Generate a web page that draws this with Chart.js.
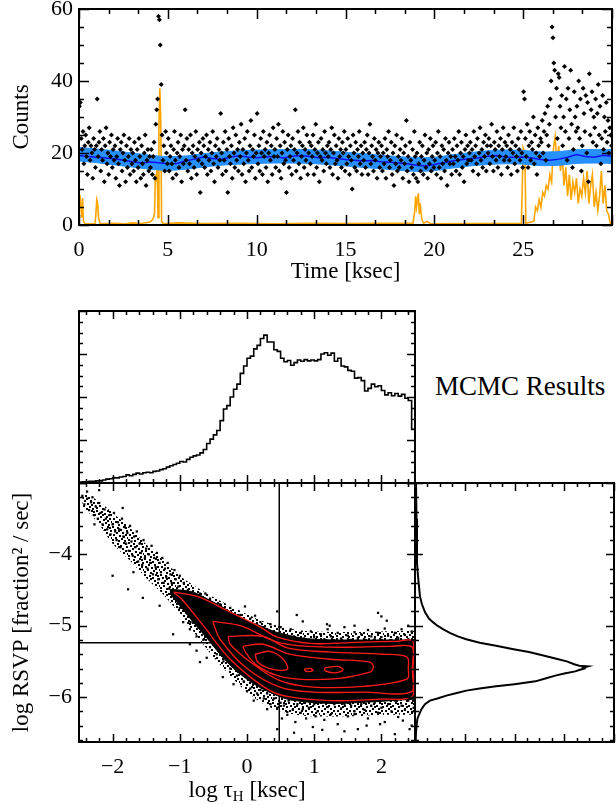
<!DOCTYPE html>
<html>
<head>
<meta charset="utf-8">
<title>Light curve and MCMC results</title>
<script src="https://cdn.jsdelivr.net/npm/chart.js@4.4.1/dist/chart.umd.min.js"></script>
<style>
  body { margin: 0; background: #fff; }
  #page { position: relative; width: 616px; height: 805px; overflow: hidden; }
  canvas { position: absolute; }
  .lbl { position: absolute; font-family: 'Liberation Serif', 'Times New Roman', serif; color: #000; white-space: nowrap; }
  .lbl sub { font-size: 15px; vertical-align: -4px; line-height: 0; }
</style>
</head>
<body>
<div id="page">
  <canvas id="lightcurve" width="616" height="290" style="left:0px;top:0px"></canvas>
  <canvas id="tauHist" width="345" height="183" style="left:75px;top:305px"></canvas>
  <canvas id="scatter" width="420" height="327" style="left:0px;top:478px"></canvas>
  <canvas id="rsvpHist" width="206" height="327" style="left:410px;top:478px"></canvas>
  <div class="lbl" style="left:435px;top:373px;font-size:27px;line-height:27px">MCMC Results</div>
  <div class="lbl" style="left:79px;width:336px;top:777px;text-align:center;font-size:23px;line-height:26px">log τ<sub>H</sub> [ksec]</div>
</div>
<script>
// ---- light curve: counts per 50 s bin, 20 bins per ksec row ----
const countT0 = 0.025;
const countDt = 0.05;
const counts = [
  33, 34, 24, 21, 26, 17, 22, 25, 19, 14, 23, 27, 18, 22, 20, 13, 24, 21, 16, 22,
  35, 19, 23, 26, 15, 21, 18, 24, 12, 22, 27, 17, 20, 14, 23, 19, 25, 16, 21, 18,
  22, 13, 19, 24, 17, 11, 21, 23, 15, 20, 25, 18, 12, 22, 16, 19, 24, 14, 21, 17,
  20, 15, 23, 18, 12, 21, 16, 24, 19, 13, 22, 17, 14, 20, 25, 11, 18, 21, 15, 19,
  16, 21, 14, 19, 23, 13, 28, 32, 35, 58, 57, 50, 39, 25, 18, 22, 15, 26, 20, 17,
  24, 15, 19, 22, 17, 13, 21, 26, 18, 14, 20, 23, 16, 19, 25, 12, 21, 17, 22, 32,
  18, 24, 15, 21, 17, 25, 13, 20, 22, 16, 19, 26, 14, 21, 18, 23, 9, 20, 17, 24,
  22, 16, 19, 25, 14, 21, 18, 23, 15, 20, 26, 17, 12, 22, 19, 24, 16, 21, 18, 31,
  20, 14, 23, 18, 26, 15, 21, 9, 24, 19, 17, 22, 13, 27, 20, 16, 25, 18, 21, 15,
  23, 19, 28, 14, 21, 17, 24, 12, 20, 26, 18, 15, 22, 29, 16, 21, 19, 25, 13, 20,
  31, 17, 22, 15, 24, 20, 14, 26, 19, 21, 16, 23, 12, 20, 25, 18, 22, 14, 27, 19,
  21, 16, 24, 19, 28, 15, 22, 13, 20, 26, 17, 23, 18, 9, 21, 25, 16, 19, 22, 14,
  24, 18, 21, 32, 15, 20, 26, 17, 23, 13, 19, 22, 27, 16, 21, 18, 25, 14, 20, 23,
  17, 22, 19, 25, 14, 21, 28, 16, 20, 23, 12, 19, 24, 18, 21, 15, 26, 20, 17, 22,
  19, 23, 16, 21, 27, 14, 20, 25, 17, 22, 18, 13, 24, 19, 21, 16, 23, 20, 26, 15,
  21, 17, 24, 19, 14, 22, 18, 10, 25, 20, 16, 23, 15, 21, 19, 26, 17, 22, 14, 20,
  18, 23, 16, 21, 25, 14, 20, 28, 17, 22, 19, 15, 24, 18, 21, 13, 20, 23, 16, 19,
  22, 15, 20, 17, 24, 13, 21, 19, 26, 16, 18, 23, 14, 20, 11, 22, 17, 25, 15, 19,
  16, 21, 18, 24, 13, 20, 17, 22, 29, 15, 19, 12, 23, 18, 16, 21, 14, 26, 19, 13,
  20, 12, 17, 23, 15, 19, 22, 14, 18, 25, 16, 20, 13, 21, 17, 24, 15, 19, 22, 16,
  18, 23, 14, 20, 26, 16, 19, 13, 22, 17, 21, 15, 24, 18, 11, 20, 23, 17, 19, 14,
  21, 17, 24, 19, 15, 22, 18, 26, 14, 20, 23, 16, 19, 12, 21, 25, 17, 22, 18, 20,
  23, 18, 21, 15, 26, 19, 22, 17, 24, 14, 20, 27, 18, 21, 16, 23, 19, 25, 15, 22,
  20, 24, 17, 22, 28, 19, 15, 23, 21, 18, 26, 16, 22, 19, 24, 14, 21, 27, 18, 23,
  19, 22, 16, 25, 18, 21, 14, 23, 20, 27, 17, 22, 19, 15, 24, 21, 18, 26, 20, 16,
  37, 35, 24, 19, 28, 16, 22, 26, 18, 23, 21, 30, 17, 25, 20, 14, 27, 22, 19, 24,
  23, 29, 20, 26, 31, 18, 25, 33, 22, 28, 35, 40, 55, 52, 45, 43, 30, 38, 24, 42,
  41, 33, 27, 36, 22, 30, 44, 26, 35, 18, 38, 24, 32, 43, 28, 16, 21, 37, 30, 26,
  33, 27, 40, 24, 35, 15, 22, 38, 31, 26, 36, 20, 34, 12, 42, 25, 32, 37, 23, 30,
  27, 35, 22, 31, 39, 25, 33, 17, 24, 36, 21, 30, 26, 34, 23, 29, 20, 27, 25, 22
];

// model rate (dark blue), every 0.5 ksec
const modelDt = 0.5;
const modelRate = [
  19.3, 19.0, 18.8, 18.6, 18.4, 18.0, 17.6, 17.2, 17.5, 17.3,
  17.0, 17.1, 17.8, 18.3, 18.9, 18.5, 18.2, 18.8, 19.2, 18.9,
  18.7, 18.9, 19.0, 18.6, 19.1, 19.3, 19.0, 18.7, 18.8, 18.5,
  18.2, 18.0, 17.8, 17.9, 17.6, 17.4, 17.2, 17.0, 16.6, 16.4,
  16.8, 17.3, 17.8, 18.1, 18.4, 18.7, 19.1, 19.3, 18.9, 18.8,
  18.9, 18.6, 18.2, 18.0, 18.3, 18.8, 19.6, 19.0, 18.8, 19.4, 19.1
];

// model uncertainty band (light blue), every 1 ksec
const bandDt = 1;
const bandHi = [
  21.6, 21.1, 20.6, 20.0, 19.4, 19.0, 19.2, 19.8, 20.3, 20.6, 20.8,
  20.9, 21.0, 20.9, 20.6, 20.2, 19.8, 19.4, 19.0, 18.7, 18.8,
  19.5, 20.1, 20.6, 20.8, 20.7, 20.3, 20.4, 20.9, 21.0, 20.9
];
const bandLo = [
  17.8, 17.3, 16.7, 16.1, 15.5, 15.2, 15.5, 16.1, 16.6, 16.9, 17.1,
  17.2, 17.2, 17.1, 16.8, 16.4, 16.0, 15.6, 15.2, 14.9, 15.1,
  15.8, 16.4, 16.8, 17.0, 16.9, 16.5, 16.6, 17.1, 17.2, 17.1
];

// flaring component (orange)
const flareT = [
  0.0, 0.05, 0.1, 0.15, 0.2, 0.25, 0.35, 0.9, 0.95, 1.0, 1.05, 1.1, 1.2, 2.0, 2.5, 3.0, 3.5, 4.0,
  4.15, 4.25, 4.3, 4.35, 4.4, 4.45, 4.5, 4.55, 4.6, 4.65, 4.75, 5.5, 7.0, 9.0, 11.0, 13.0, 15.0,
  17.0, 18.8, 18.9, 18.95, 19.0, 19.1, 19.15, 19.2, 19.3, 19.4, 19.6, 19.8, 22.0, 24.9, 25.0,
  25.1, 25.15, 25.6, 25.7, 25.8, 25.9, 26.0, 26.1, 26.2, 26.3, 26.4, 26.5, 26.6, 26.7, 26.8,
  26.9, 27.0, 27.1, 27.2, 27.3, 27.4, 27.5, 27.6, 27.7, 27.8, 27.9, 28.0, 28.1, 28.2, 28.3,
  28.4, 28.5, 28.6, 28.7, 28.8, 28.9, 29.0, 29.1, 29.2, 29.3, 29.4, 29.5, 29.6, 29.7, 29.8,
  29.9, 30.0
];
const flareCounts = [
  5, 8.3, 6, 2, 7.5, 1, 0.3, 0.3, 3, 7, 6, 2, 0.3, 0.5, 0.3, 0.6, 0.4, 0.8,
  1.5, 3, 14, 12, 16, 2, 28, 38, 30, 1, 0.3, 0.6, 0.4, 0.5, 0.3, 0.5, 0.4,
  0.5, 0.5, 4, 8, 5, 8.8, 3, 6, 1.5, 0.5, 1, 0.3, 0.4, 0.5, 21.4,
  20, 0.5, 1, 5, 4, 7, 5, 9, 8, 11, 10, 14, 12, 21, 24.5,
  17, 22, 15, 19, 11, 16, 8, 14, 7, 12, 9, 13, 6, 10, 8,
  13, 9, 15, 6, 11, 14, 5, 9, 4, 8, 15, 6, 11, 4, 3,
  0.5, 0.3
];

// ---- MCMC marginal of log tau_H (0.05 wide bins from -2.5) ----
const tauBinLo = -2.5;
const tauBinWidth = 0.05;
const tauHist = [
  0.02, 0.02, 0.03, 0.03, 0.04, 0.04, 0.05, 0.05, 0.07, 0.09,
  0.10, 0.12, 0.12, 0.14, 0.15, 0.19, 0.17, 0.20, 0.23, 0.21,
  0.24, 0.25, 0.24, 0.27, 0.28, 0.31, 0.33, 0.37, 0.40, 0.43,
  0.46, 0.50, 0.49, 0.55, 0.60, 0.63, 0.65, 0.70, 0.78, 0.92,
  1.02, 1.12, 1.22, 1.45, 1.72, 1.80, 2.00, 2.18, 2.30, 2.55,
  2.72, 2.90, 2.95, 3.12, 3.20, 3.36, 3.44, 3.28, 3.28, 3.10,
  3.06, 2.90, 2.82, 2.85, 2.74, 2.80, 2.86, 2.83, 2.87, 2.84,
  2.86, 2.84, 2.87, 3.00, 3.03, 2.97, 3.02, 2.83, 2.90, 2.72,
  2.70, 2.62, 2.60, 2.44, 2.45, 2.38, 2.14, 2.20, 2.30, 2.24,
  2.26, 2.15, 2.05, 2.10, 2.03, 2.08, 2.02, 2.06, 1.97, 1.92
];
const tauHistEdgeX = [2.485, 2.5];
const tauHistEdgeY = [1.25, 1.25];

// ---- MCMC marginal of log RSVP ----
const rsvpLevels = [
  -3.0, -3.5, -4.0, -4.12, -4.3, -4.45, -4.59, -4.7, -4.81, -4.9, -4.95, -5.0, -5.05, -5.1,
  -5.15, -5.19, -5.24, -5.28, -5.33, -5.37, -5.42, -5.47, -5.5, -5.54, -5.56, -5.57, -5.59,
  -5.6, -5.62, -5.64, -5.67, -5.7, -5.74, -5.78, -5.82, -5.85, -5.88, -5.91, -5.95, -5.98,
  -6.02, -6.05, -6.1, -6.17, -6.25, -6.3, -6.4, -6.5, -6.63
];
const rsvpHist = [
  0.02, 0.03, 0.04, 0.04, 0.06, 0.08, 0.10, 0.14, 0.20, 0.28, 0.36, 0.45, 0.57, 0.70,
  0.86, 1.03, 1.30, 1.63, 1.98, 2.29, 2.60, 2.88, 3.05, 3.20, 3.30, 3.48, 3.38,
  3.40, 3.30, 3.22, 3.00, 2.82, 2.62, 2.42, 2.00, 1.63, 1.30, 1.03, 0.80, 0.63,
  0.45, 0.30, 0.20, 0.13, 0.08, 0.05, 0.03, 0.02, 0.01
];

// ---- posterior samples, log tau_H vs log RSVP ----
const bestTau = 0.48;
const bestRsvp = -5.24;
// outline of the crowded (stippled) part of the sample cloud
const haloTau = [-2.45, -2.2, -2.0, -1.75, -1.5, -1.25, -1.0, -0.75, -0.5, -0.25, 0.0, 0.25, 0.5, 0.75, 1.0, 1.5, 2.0, 2.5];
const haloTop = [-3.12, -3.26, -3.42, -3.62, -3.86, -4.08, -4.3, -4.46, -4.6, -4.72, -4.84, -4.94, -5.01, -5.06, -5.08, -5.09, -5.08, -5.07];
const haloBottom = [-3.32, -3.58, -3.85, -4.08, -4.33, -4.56, -4.84, -5.14, -5.44, -5.7, -5.93, -6.1, -6.2, -6.25, -6.27, -6.27, -6.25, -6.25];
// outline of the densest (solid) part of the sample cloud
const denseTau = [-1.15, -1.0, -0.8, -0.6, -0.4, -0.2, 0.0, 0.2, 0.4, 0.6, 0.8, 1.0, 1.3, 1.6, 2.0, 2.3, 2.5];
const denseTop = [-4.49, -4.5, -4.53, -4.62, -4.72, -4.83, -4.93, -5.0, -5.08, -5.13, -5.17, -5.19, -5.2, -5.2, -5.2, -5.2, -5.2];
const denseBottom = [-4.55, -4.72, -4.95, -5.17, -5.4, -5.6, -5.75, -5.87, -5.96, -6.03, -6.06, -6.08, -6.09, -6.08, -6.06, -6.04, -6.03];
// individual samples outside the solid core
const sampleCloud = [
  [-2.45,-3.18],[-2.42,-3.3],[-2.38,-3.22],[-2.35,-3.38],[-2.32,-3.27],[-2.3,-3.2],[-2.28,-3.45],[-2.25,-3.33],
  [-2.22,-3.5],[-2.2,-3.28],[-2.18,-3.42],[-2.15,-3.58],[-2.12,-3.37],[-2.1,-3.5],[-2.08,-3.65],[-2.05,-3.45],
  [-2.03,-3.72],[-2.0,-3.58],[-1.98,-3.42],[-1.96,-3.68],[-1.94,-3.8],[-1.92,-3.55],[-1.9,-3.65],[-1.88,-3.9],
  [-1.86,-3.5],[-1.84,-3.75],[-1.82,-3.62],[-1.8,-3.85],[-1.78,-3.7],[-1.76,-3.95],[-1.74,-3.6],[-1.72,-3.82],
  [-1.7,-4.02],[-1.68,-3.75],[-1.66,-3.9],[-1.64,-3.68],[-1.62,-4.1],[-1.6,-3.85],[-1.58,-3.98],[-1.56,-4.15],
  [-1.54,-3.8],[-1.52,-4.05],[-1.5,-3.92],[-1.48,-4.2],[-1.46,-4.0],[-1.44,-4.12],[-1.42,-3.88],[-1.4,-4.28],
  [-1.38,-4.05],[-1.36,-4.18],[-1.34,-3.98],[-1.32,-4.35],[-1.3,-4.12],[-1.28,-4.25],[-1.26,-4.05],[-1.24,-4.4],
  [-1.22,-4.2],[-1.2,-4.32],[-1.18,-4.12],[-1.16,-4.48],[-1.14,-4.28],[-1.12,-4.4],[-1.1,-4.58],[-1.08,-4.22],
  [-1.06,-4.35],[-1.04,-4.62],[-1.02,-4.45],[-1.0,-4.3],[-0.98,-4.55],[-0.96,-4.72],[-0.94,-4.4],[-0.92,-4.6],
  [-0.9,-4.82],[-0.88,-4.5],[-0.86,-4.7],[-0.84,-4.95],[-0.82,-4.58],[-0.8,-4.78],
  [-2.0,-4.3],[-1.55,-4.61],[-1.77,-4.49],[-1.3,-4.72],[-1.1,-5.12],[-0.85,-5.26],[-0.7,-5.51],[-2.2,-3.1],
  [-1.85,-3.35],[-2.38,-3.12],[-2.27,-3.58],[-1.69,-4.25],
  [-0.78,-4.62],[-0.75,-4.72],[-0.7,-4.55],[-0.65,-4.68],[-0.6,-4.8],[-0.55,-4.62],[-0.5,-4.75],[-0.45,-4.88],
  [-0.4,-4.7],[-0.35,-4.82],[-0.3,-4.95],[-0.25,-4.75],[-0.2,-4.88],[-0.15,-5.0],[-0.1,-4.85],[-0.05,-4.95],
  [0.0,-5.05],[0.05,-4.9],[0.1,-5.0],[0.15,-5.1],[0.2,-4.95],[0.25,-5.05],[0.3,-5.12],[0.35,-4.98],
  [0.4,-5.08],[0.45,-5.15],[0.5,-5.02],[0.55,-5.12],[0.6,-5.18],[0.65,-5.05],[0.7,-5.15],[0.75,-5.2],
  [0.8,-5.1],[0.85,-5.18],[0.9,-5.22],[0.95,-5.08],[1.0,-5.16],[1.05,-5.2],[1.1,-5.12],[1.15,-5.19],
  [1.2,-5.05],[1.25,-5.15],[1.3,-5.21],[1.35,-5.1],[1.4,-5.18],[1.45,-5.02],[1.5,-5.14],[1.55,-5.2],
  [1.6,-5.09],[1.65,-5.17],[1.7,-5.12],[1.75,-5.2],[1.8,-5.06],[1.85,-5.15],[1.9,-5.19],[1.95,-5.1],
  [2.0,-5.16],[2.05,-5.04],[2.1,-5.14],[2.15,-5.2],[2.2,-5.1],[2.25,-5.17],[2.3,-5.05],[2.35,-5.13],
  [2.4,-5.19],[2.45,-5.08],
  [-0.03,-4.73],[0.74,-4.85],[1.95,-4.82],[2.0,-4.87],[2.4,-5.0],[1.23,-5.0],[1.6,-5.0],[-0.5,-5.08],
  [0.45,-4.8],[0.83,-4.94],[1.19,-4.98],[2.08,-4.93],[-0.62,-4.55],[0.12,-4.86],
  [-1.0,-4.75],[-0.95,-4.95],[-0.9,-4.8],[-0.85,-5.05],[-0.8,-4.92],[-0.75,-5.15],[-0.7,-5.02],[-0.65,-5.2],
  [-0.6,-5.1],[-0.55,-5.3],[-0.5,-5.2],[-0.45,-5.4],[-0.4,-5.3],[-0.35,-5.5],[-0.3,-5.42],[-0.25,-5.6],
  [-0.2,-5.5],[-0.15,-5.7],[-0.1,-5.6],[-0.05,-5.78],[0.0,-5.7],[0.05,-5.88],[0.1,-5.8],[0.15,-5.95],
  [0.2,-5.9],[0.25,-6.02],[0.3,-5.95],[0.35,-6.1],[0.4,-6.02],[0.45,-6.15],[0.5,-6.08],
  [-0.75,-5.35],[-0.6,-5.45],[-0.36,-5.72],[0.0,-5.92],[0.3,-6.17],[-0.2,-5.82],[0.1,-6.05],
  [0.55,-6.12],[0.6,-6.25],[0.62,-6.05],[0.68,-6.18],[0.72,-6.35],[0.75,-6.1],[0.8,-6.22],[0.85,-6.08],
  [0.88,-6.3],[0.92,-6.15],[0.98,-6.42],[1.0,-6.1],[1.05,-6.2],[1.1,-6.08],[1.15,-6.32],[1.2,-6.14],
  [1.25,-6.24],[1.3,-6.1],[1.35,-6.38],[1.4,-6.16],[1.45,-6.1],[1.5,-6.27],[1.55,-6.12],[1.6,-6.2],
  [1.65,-6.45],[1.7,-6.1],[1.75,-6.18],[1.8,-6.3],[1.85,-6.12],[1.9,-6.08],[1.95,-6.22],[2.0,-6.15],
  [2.05,-6.35],[2.1,-6.1],[2.15,-6.2],[2.2,-6.05],[2.25,-6.28],[2.3,-6.12],[2.35,-6.18],[2.4,-6.05],
  [2.45,-6.4],[2.48,-6.15],
  [0.6,-6.21],[1.6,-6.24],[1.98,-6.38],[2.42,-6.45],[0.83,-6.17],[0.45,-6.45],[0.7,-6.5],[1.45,-6.48],
  [2.2,-6.52],[1.12,-6.46],[0.52,-6.3],[1.02,-6.27],[1.78,-6.4],[2.32,-6.33]
];
// probability contours
const contour1 = [[-1.09,-4.53],[-0.74,-4.59],[-0.25,-4.81],[0.2,-5.02],[0.45,-5.16],[0.98,-5.25],[1.73,-5.23],[2.2,-5.22],
  [2.47,-5.22],[2.47,-5.6],[2.47,-5.98],[1.98,-6.03],[1.24,-6.05],[0.54,-5.98],[0.24,-5.85],[-0.25,-5.47],[-0.65,-5.0],
  [-0.95,-4.65],[-1.09,-4.53]];
const contour2 = [[-0.51,-4.94],[-0.1,-5.0],[0.49,-5.24],[1.24,-5.3],[2.13,-5.29],[2.46,-5.3],[2.46,-5.6],[2.46,-5.92],
  [1.73,-5.93],[0.98,-5.93],[0.49,-5.86],[0.0,-5.6],[-0.4,-5.19],[-0.51,-4.94]];
const contour3 = [[-0.28,-5.15],[0.24,-5.15],[0.6,-5.31],[1.24,-5.37],[2.02,-5.4],[2.38,-5.44],[2.4,-5.6],[2.38,-5.75],
  [1.73,-5.85],[0.98,-5.86],[0.49,-5.77],[0.05,-5.51],[-0.25,-5.26],[-0.28,-5.15]];
const contour4 = [[-0.06,-5.29],[0.24,-5.26],[0.64,-5.4],[1.24,-5.47],[1.83,-5.51],[1.88,-5.58],[1.83,-5.65],[1.24,-5.75],
  [0.54,-5.72],[0.15,-5.56],[-0.03,-5.36],[-0.06,-5.29]];
const contour5 = [[0.12,-5.4],[0.34,-5.36],[0.54,-5.47],[0.6,-5.61],[0.34,-5.6],[0.16,-5.51],[0.12,-5.4]];
const contour6 = [[0.85,-5.61],[0.95,-5.6],[0.98,-5.63],[0.88,-5.64],[0.85,-5.61]];
const contour7 = [[1.16,-5.59],[1.35,-5.57],[1.43,-5.62],[1.3,-5.66],[1.16,-5.63],[1.16,-5.59]];

// stipple tile (16x16) used to shade the crowded part of the cloud
const stippleDots = [
  [0, 0], [5, 1], [11, 0], [2, 3], [8, 3], [14, 4], [4, 6], [10, 6], [1, 8], [7, 9],
  [13, 8], [3, 11], [9, 12], [15, 11], [6, 14], [12, 14], [0, 13], [11, 10], [6, 4], [13, 1]
];

// ---------------------------------------------------------------
Chart.defaults.font.family = "'Liberation Serif', 'Times New Roman', serif";
Chart.defaults.font.size = 22;
Chart.defaults.color = '#000';
Chart.defaults.animation = false;
Chart.defaults.plugins.legend.display = false;
Chart.defaults.plugins.tooltip.enabled = false;

const xy = (xs, ys) => xs.map((x, i) => ({ x: x, y: ys[i] }));
const pairs = list => list.map(p => ({ x: p[0], y: p[1] }));
const minus = v => String(v).replace('-', '\u2212');

function makeStipple(target) {
    const tile = document.createElement('canvas');
    tile.width = 16;
    tile.height = 16;
    const g = tile.getContext('2d');
    g.fillStyle = '#000';
    for (const [px, py] of stippleDots) g.fillRect(px, py, 2, 2);
    return target.getContext('2d').createPattern(tile, 'repeat');
}

// IDL-like frame: box with inward major/minor ticks on all four sides
function addTicks(ctx, scale, t, a, horizontal, lens) {
    const sub = t.step / t.minor;
    const first = Math.ceil(scale.min / sub - 1e-6);
    const last = Math.floor(scale.max / sub + 1e-6);
    for (let i = first; i <= last; i++) {
        const len = i % t.minor === 0 ? lens[0] : lens[1];
        const p = Math.round(scale.getPixelForValue(i * sub)) + 0.5;
        if (horizontal) {
            ctx.moveTo(p, a.bottom); ctx.lineTo(p, a.bottom - len);
            ctx.moveTo(p, a.top); ctx.lineTo(p, a.top + len);
        } else {
            ctx.moveTo(a.left, p); ctx.lineTo(a.left + len, p);
            ctx.moveTo(a.right, p); ctx.lineTo(a.right - len, p);
        }
    }
}
const idlFrame = {
    id: 'idlFrame',
    afterDatasetsDraw(chart, args, opts) {
        const { ctx, chartArea: a } = chart;
        ctx.save();
        ctx.strokeStyle = '#000';
        ctx.lineWidth = 1.5;
        ctx.beginPath();
        addTicks(ctx, chart.scales.x, opts.x, a, true, opts.lens);
        addTicks(ctx, chart.scales.y, opts.y, a, false, opts.lens);
        ctx.stroke();
        ctx.lineWidth = 2;
        ctx.strokeRect(a.left, a.top, a.right - a.left, a.bottom - a.top);
        ctx.restore();
    }
};

const hiddenGrid = { display: false, drawTicks: false };
const noBorder = { display: false };

// ---- top: light curve ----
new Chart(document.getElementById('lightcurve'), {
    type: 'line',
    data: {
        datasets: [
            {
                label: 'Counts',
                data: counts.map((c, i) => ({ x: countT0 + i * countDt, y: c })),
                showLine: false,
                pointStyle: 'rectRot',
                pointRadius: 2.5,
                pointBackgroundColor: '#000',
                pointBorderWidth: 0,
                order: 0
            },
            {
                label: 'Model',
                data: modelRate.map((v, i) => ({ x: i * modelDt, y: v })),
                borderColor: '#1212ee',
                borderWidth: 1.5,
                pointRadius: 0,
                order: 1
            },
            {
                label: 'Model upper',
                data: bandHi.map((v, i) => ({ x: i * bandDt, y: v })),
                borderColor: '#2690ff',
                backgroundColor: '#2690ff',
                borderWidth: 1,
                pointRadius: 0,
                tension: 0.3,
                fill: '+1',
                order: 2
            },
            {
                label: 'Model lower',
                data: bandLo.map((v, i) => ({ x: i * bandDt, y: v })),
                borderColor: '#2690ff',
                borderWidth: 1,
                pointRadius: 0,
                tension: 0.3,
                order: 3
            },
            {
                label: 'Flares',
                data: xy(flareT, flareCounts),
                borderColor: '#ffa500',
                borderWidth: 1.6,
                pointRadius: 0,
                order: 4
            }
        ]
    },
    options: {
        responsive: false,
        layout: { padding: { top: 9, right: 4, left: 0, bottom: 0 } },
        scales: {
            x: {
                type: 'linear', min: 0, max: 30,
                grid: hiddenGrid, border: noBorder,
                ticks: { stepSize: 5, padding: 12, autoSkip: false, maxRotation: 0, callback: v => v < 30 ? v : '' },
                title: { display: true, text: 'Time [ksec]', font: { size: 23 }, padding: { top: 0, bottom: 4 } },
                afterFit: s => { s.height = 65; s.paddingLeft = 0; s.paddingRight = 0; }
            },
            y: {
                type: 'linear', min: 0, max: 60,
                grid: hiddenGrid, border: noBorder,
                ticks: { stepSize: 20, padding: 6 },
                title: { display: true, text: 'Counts', font: { size: 23 }, padding: { top: 8, bottom: 0 } },
                afterFit: s => { s.width = 79; s.paddingTop = 0; s.paddingBottom = 0; }
            }
        },
        plugins: {
            idlFrame: { x: { step: 5, minor: 3 }, y: { step: 20, minor: 4 }, lens: [10, 5] }
        }
    },
    plugins: [idlFrame]
});

// ---- middle: histogram of log tau_H ----
const tauPoints = tauHist.map((v, i) => ({ x: tauBinLo + i * tauBinWidth, y: v }))
    .concat(xy(tauHistEdgeX, tauHistEdgeY));
new Chart(document.getElementById('tauHist'), {
    type: 'line',
    data: {
        datasets: [{
            label: 'log tau_H',
            data: tauPoints,
            stepped: 'after',
            borderColor: '#000',
            borderWidth: 1.6,
            pointRadius: 0
        }]
    },
    options: {
        responsive: false,
        layout: { padding: { top: 6, right: 5, left: 4, bottom: 5 } },
        scales: {
            x: { type: 'linear', min: -2.5, max: 2.5, display: false },
            y: { type: 'linear', min: 0, max: 4, display: false }
        },
        plugins: {
            idlFrame: { x: { step: 1, minor: 5 }, y: { step: 1, minor: 4 }, lens: [8, 4] }
        }
    },
    plugins: [idlFrame]
});

// ---- bottom left: sample scatter with contours ----
const scatterCanvas = document.getElementById('scatter');
const contourStyle = { borderColor: '#ff1a1a', borderWidth: 1.3, pointRadius: 0, tension: 0.35, order: 0 };
new Chart(scatterCanvas, {
    type: 'line',
    data: {
        datasets: [
            Object.assign({ label: 'c1', data: pairs(contour1) }, contourStyle),
            Object.assign({ label: 'c2', data: pairs(contour2) }, contourStyle),
            Object.assign({ label: 'c3', data: pairs(contour3) }, contourStyle),
            Object.assign({ label: 'c4', data: pairs(contour4) }, contourStyle),
            Object.assign({ label: 'c5', data: pairs(contour5) }, contourStyle),
            Object.assign({ label: 'c6', data: pairs(contour6) }, contourStyle),
            Object.assign({ label: 'c7', data: pairs(contour7) }, contourStyle),
            {
                label: 'best tau',
                data: [{ x: bestTau, y: -6.63 }, { x: bestTau, y: -3.0 }],
                borderColor: '#000', borderWidth: 1.5, pointRadius: 0, order: 1
            },
            {
                label: 'best rsvp',
                data: [{ x: -2.5, y: bestRsvp }, { x: 2.5, y: bestRsvp }],
                borderColor: '#000', borderWidth: 1.5, pointRadius: 0, order: 1
            },
            {
                label: 'samples',
                data: pairs(sampleCloud),
                showLine: false,
                pointStyle: 'rect',
                pointRadius: 1.6,
                pointBackgroundColor: '#000',
                pointBorderWidth: 0,
                order: 2
            },
            {
                label: 'core top',
                data: xy(denseTau, denseTop),
                borderColor: '#000', backgroundColor: '#000', borderWidth: 1,
                pointRadius: 0, tension: 0.3, fill: '+1', order: 3
            },
            {
                label: 'core bottom',
                data: xy(denseTau, denseBottom),
                borderColor: '#000', borderWidth: 1,
                pointRadius: 0, tension: 0.3, order: 4
            },
            {
                label: 'halo top',
                data: xy(haloTau, haloTop),
                borderColor: 'rgba(0,0,0,0)', backgroundColor: makeStipple(scatterCanvas), borderWidth: 0,
                pointRadius: 0, tension: 0.3, fill: '+1', order: 5
            },
            {
                label: 'halo bottom',
                data: xy(haloTau, haloBottom),
                borderColor: 'rgba(0,0,0,0)', borderWidth: 0,
                pointRadius: 0, tension: 0.3, order: 6
            }
        ]
    },
    options: {
        responsive: false,
        layout: { padding: { top: 5, right: 5, left: 0, bottom: 0 } },
        scales: {
            x: {
                type: 'linear', min: -2.5, max: 2.5,
                grid: hiddenGrid, border: noBorder,
                afterBuildTicks: s => { s.ticks = [-2, -1, 0, 1, 2].map(v => ({ value: v })); },
                ticks: { padding: 12, autoSkip: false, maxRotation: 0, callback: v => minus(v) },
                afterFit: s => { s.height = 63; s.paddingLeft = 0; s.paddingRight = 0; }
            },
            y: {
                type: 'linear', min: -6.63, max: -3.0,
                grid: hiddenGrid, border: noBorder,
                afterBuildTicks: s => { s.ticks = [-6, -5, -4].map(v => ({ value: v })); },
                ticks: { padding: 7, autoSkip: false, callback: v => minus(v) },
                title: { display: true, text: 'log RSVP [fraction\u00b2 / sec]', font: { size: 23 }, padding: { top: 8, bottom: 0 } },
                afterFit: s => { s.width = 79; s.paddingTop = 0; s.paddingBottom = 0; }
            }
        },
        plugins: {
            idlFrame: { x: { step: 1, minor: 5 }, y: { step: 1, minor: 5 }, lens: [8, 4] }
        }
    },
    plugins: [idlFrame]
});

// ---- bottom right: histogram of log RSVP ----
new Chart(document.getElementById('rsvpHist'), {
    type: 'line',
    data: {
        datasets: [{
            label: 'log RSVP',
            data: xy(rsvpHist, rsvpLevels),
            borderColor: '#000',
            borderWidth: 2,
            pointRadius: 0
        }]
    },
    options: {
        responsive: false,
        layout: { padding: { top: 5, right: 2, left: 5, bottom: 63 } },
        scales: {
            x: { type: 'linear', min: 0, max: 4, display: false },
            y: { type: 'linear', min: -6.63, max: -3.0, display: false }
        },
        plugins: {
            idlFrame: { x: { step: 1, minor: 4 }, y: { step: 1, minor: 5 }, lens: [8, 4] }
        }
    },
    plugins: [idlFrame]
});
</script>
</body>
</html>
